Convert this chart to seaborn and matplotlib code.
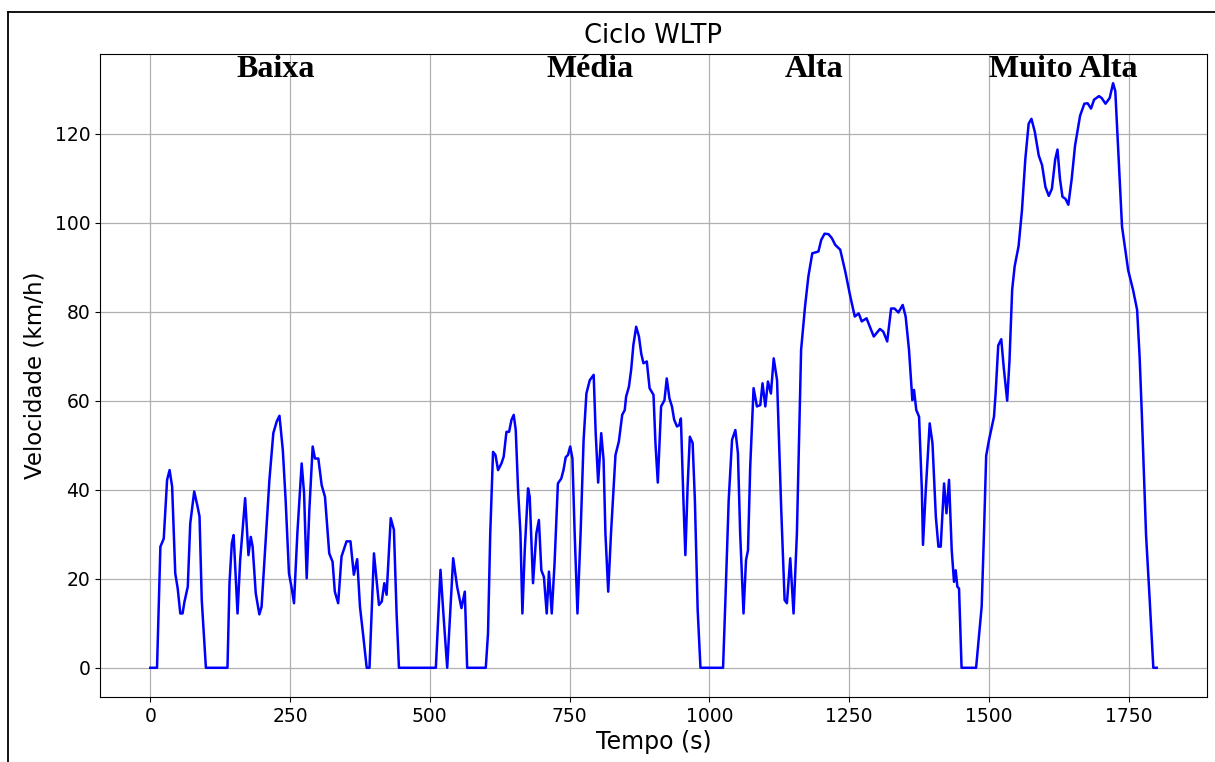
import matplotlib
matplotlib.use("Agg")
import matplotlib.pyplot as plt
import seaborn as sns
import pandas as pd
from matplotlib.lines import Line2D

# WLTP class 3 speed trace: time (s) and speed (km/h) breakpoints
time_s = [
    0, 12, 18, 24, 30, 34.5, 39, 44.6, 49, 53.6, 57.7, 61, 67, 71.4, 78.5, 84.5, 88, 92, 99.4,
    138, 141.6, 145.8, 149, 156, 160.7, 169.6, 175.5, 179.7, 183, 188.6, 195, 199, 207, 213,
    220, 226, 231, 237, 242, 248, 253, 257, 263, 270.7, 275, 279.7, 284.4, 290.4, 294.5, 300.5,
    306.5, 312.4, 320, 326, 330, 336, 342, 351, 358, 364, 370, 375, 381, 387, 392, 400, 409,
    414, 418.5, 422.6, 430, 435.7, 440.5, 444.7, 510.7, 519, 525, 531, 541.7, 548.8, 556.5,
    562.5, 566.7, 600,
    604, 608, 613, 617.3, 622, 628, 632, 637, 641.7, 646, 650, 653.6, 657.8, 662, 665.5, 669.7,
    675.6, 678.6, 684.5, 690.5, 695, 699.4, 704, 709, 713, 718, 723, 729, 735, 739, 743, 747,
    751, 755, 759, 764, 769.6, 775, 780, 786, 793, 796.6, 801, 806.5, 810.7, 814, 819, 824, 832,
    838, 844, 848.6, 851, 856, 860, 864, 869, 874, 878, 882, 888, 893, 900, 903.5, 907.7, 913.6,
    919.6, 923.7, 928.5, 933, 937, 942, 946, 949, 953.5, 957, 961, 965, 970, 974, 979, 984,
    1024.4, 1028.6, 1034.5, 1040.5, 1046.4, 1051, 1055, 1061, 1065.5, 1069, 1073, 1079, 1085,
    1091, 1095, 1100, 1104.7, 1110, 1115, 1121, 1124, 1128.5, 1134.5, 1138.6, 1144.6, 1150.5,
    1156.5, 1164, 1171, 1177, 1184, 1195, 1200, 1206, 1213, 1219, 1225, 1234, 1243, 1252, 1260,
    1267, 1272.5, 1281, 1287, 1294, 1305, 1311, 1318, 1325, 1331, 1338, 1345.7,
    1351, 1357, 1363, 1366, 1370, 1375, 1380, 1382, 1387, 1394, 1399, 1405, 1409.6, 1413.7,
    1419.7, 1424, 1428.6, 1433.4, 1437.5, 1440.5, 1443.5, 1446.5, 1451, 1477,
    1487, 1491, 1495, 1500, 1509, 1512, 1516.6, 1522, 1526.7, 1532.6, 1536.7, 1541.5, 1546,
    1553, 1559, 1565, 1571, 1576, 1582, 1589, 1595, 1601, 1607, 1612.6, 1618.5, 1622.6, 1627,
    1631.5, 1637, 1642, 1648, 1654, 1663, 1670.6, 1676.5, 1682.5, 1688, 1696.7, 1701.4, 1708.5,
    1716, 1722, 1726, 1732, 1738, 1749, 1757.7, 1765, 1769.5, 1773.6, 1781, 1787, 1794, 1800,
]
speed_kmh = [
    0, 0, 27.2, 29, 42.2, 44.4, 40.7, 21.2, 17.8, 12.2, 12.2, 14.8, 18.2, 32.4, 39.6, 36.2, 34, 15.2, 0,
    0, 19, 28, 29.8, 12.2, 24.2, 38.1, 25.3, 29.4, 27.2, 16.7, 12, 13.7, 30.2, 42.2,
    52.7, 55.3, 56.6, 48.9, 37.7, 21.2, 17.8, 14.5, 30.2, 45.9, 39.2, 20.1, 35.4, 49.7, 47, 47,
    41, 38.4, 25.7, 23.8, 17.1, 14.5, 25, 28.4, 28.4, 20.9, 24.4, 13.7, 7, 0, 0, 25.7, 14.1,
    14.9, 19, 16.4, 33.6, 31, 12.2, 0, 0, 22, 10.7, 0, 24.6, 18.2, 13.4,
    17.1, 0, 0,
    7.7, 30.2, 48.5, 47.8, 44.4, 45.9, 47.4, 53, 53, 55.7, 56.8, 53.4, 39.9, 30.2, 12.2, 26.4,
    40.3, 38.4, 19, 30.2, 33.2, 21.9, 20.4, 12.2, 21.6, 12.2, 23.4, 41.4, 42.5, 44.4, 47.3, 47.8,
    49.7, 47, 30.2, 12.2, 30.2, 51.2, 61.6, 64.6, 65.8, 52.7, 41.6, 52.7, 46.7, 30.2, 17.1, 30.2, 47.8,
    50.8, 56.8, 57.9, 60.9, 63.1, 66.9, 72.5, 76.6, 74.4, 70.6, 68.4, 68.8, 62.8, 61.3, 50.4, 41.6, 58.7,
    60.1, 65, 60.5, 58.7, 55.7, 54.2, 54.5, 56, 37.7, 25.3, 40.7, 51.9, 50.5, 37.7, 13, 0,
    0, 15.2, 37.7, 51.2, 53.4, 48.2, 30.2, 12.2, 24.2, 26.4, 45.2, 62.8, 58.7,
    59, 63.9, 58.7, 64.3, 61.6, 69.5, 64.6, 52.7, 35.4, 15.2, 14.5, 24.6, 12.2,
    30.2, 71.4, 81.1, 87.9, 93.1, 93.5, 96.1, 97.5, 97.4, 96.5, 95, 93.9, 89, 83.4, 78.9,
    79.6, 77.8, 78.5, 76.6, 74.4, 76.1, 75.5, 73.3, 80.7, 80.7, 79.8, 81.5,
    78.9, 71.4, 60.1, 62.4, 57.9, 56.4, 39.9, 27.6, 39.9, 54.9, 50.4, 33.9, 27.2, 27.2,
    41.4, 34.7, 42.2, 26.4, 19.3, 21.9, 18.2, 17.8, 0, 0,
    13.8, 29.8, 47.6, 51.1, 56.4, 61.8, 72.4, 73.8, 67.1, 60, 68.9, 84.9, 90.2,
    94.7, 102.7, 114.2, 122.2, 123.3, 120.4, 115.1, 112.9, 108, 106, 107.6, 114.2, 116.4, 109.8,
    105.8, 105.3, 104, 109.8, 117.3, 124, 126.7, 126.8, 125.6, 127.6, 128.4, 128, 126.7,
    128, 131.3, 129.5, 114.2, 99.1, 89.3, 84.9, 80.4, 69.8, 56.4, 29.8, 16.4, 0, 0,
]

phase_names = ["Baixa", "Média", "Alta", "Muito Alta"]
phase_label_x = [224, 787, 1188, 1633]
x_ticks = [0, 250, 500, 750, 1000, 1250, 1500, 1750]
y_ticks = [0, 20, 40, 60, 80, 100, 120]

W, H = 1215, 762
fig = plt.figure(figsize=(W / 100, H / 100), dpi=100)
ax = fig.add_axes([100 / W, 1 - 697 / H, 1107 / W, 643 / H])

df = pd.DataFrame({"t": time_s, "v": speed_kmh})
sns.lineplot(data=df, x="t", y="v", color="blue", linewidth=1.8, ax=ax)

ax.set_title("Ciclo WLTP", fontsize=18.5, pad=8)
ax.set_xlabel("Tempo (s)", fontsize=17, labelpad=3)
ax.set_ylabel("Velocidade (km/h)", fontsize=16.5, labelpad=6)
ax.set_xticks(x_ticks)
ax.set_yticks(y_ticks)
ax.tick_params(labelsize=13.5)
ax.grid(True, color="#b0b0b0", linewidth=0.9)

for name, x in zip(phase_names, phase_label_x):
    ax.text(x, 132.6, name, ha="center", va="baseline", fontsize=23,
            fontweight="bold", family="Liberation Serif")

# outer frame around the figure
fx = 8 / W
fy = 1 - 12 / H
fig.add_artist(Line2D([fx, fx], [0, fy], transform=fig.transFigure, color="black", lw=1.3))
fig.add_artist(Line2D([fx, 1], [fy, fy], transform=fig.transFigure, color="black", lw=1.3))

fig.savefig("out.png", dpi=100)
